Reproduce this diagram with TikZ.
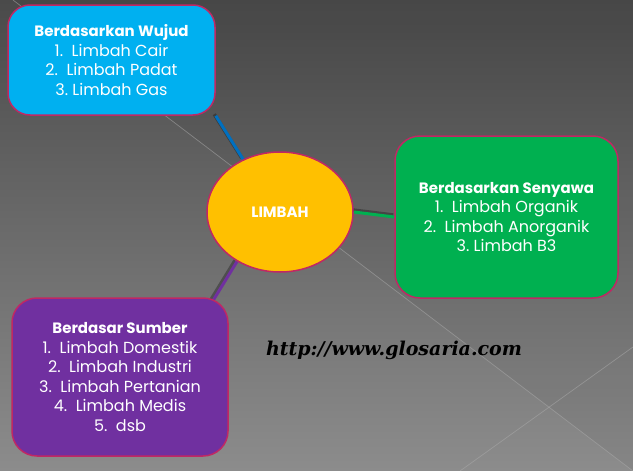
\documentclass[tikz,border=0pt]{standalone}
\usepackage{fontspec}
\setmainfont{Poppins}
\newfontfamily\urlfont{DejaVu Serif}
\usetikzlibrary{shapes.geometric}
\pgfdeclarelayer{bg}
\pgfdeclarelayer{lines}
\pgfsetlayers{bg,lines,main}
\definecolor{bordercol}{RGB}{192,40,100}
\definecolor{wujudcol}{RGB}{0,176,240}
\definecolor{senyawacol}{RGB}{0,176,80}
\definecolor{sumbercol}{RGB}{112,48,160}
\definecolor{limbahcol}{RGB}{255,192,0}
\definecolor{linkblue}{RGB}{0,112,192}
\definecolor{linkgreen}{RGB}{0,176,80}
\definecolor{linkpurple}{RGB}{112,48,160}
\definecolor{bgtop}{RGB}{74,74,74}
\definecolor{bgmid}{RGB}{98,98,98}
\definecolor{bgbot}{RGB}{140,140,140}
\definecolor{glint}{RGB}{170,170,170}
\newcommand{\hd}[1]{{\fontsize{15}{19.5}\selectfont\bfseries #1}}
\tikzset{
  catbox/.style={draw=bordercol, line width=1.5pt, rounded corners=22pt,
    text=white, align=center, inner sep=0pt,
    font=\fontsize{16}{19.5}\selectfont},
  hubnode/.style={ellipse, draw=bordercol, line width=1.5pt, fill=limbahcol,
    inner sep=0pt, text=white, font=\fontsize{15}{18}\selectfont\bfseries},
  link/.style={line width=3pt},
  linkshadow/.style={line width=3.5pt, black, opacity=0.3},
  glintline/.style={glint, line width=0.7pt, opacity=0.55},
  urltext/.style={font=\urlfont\fontsize{19}{22}\selectfont\bfseries\itshape, text=black, inner sep=0pt}
}
\begin{document}
\begin{tikzpicture}[x=1pt,y=-1pt]
\useasboundingbox (0,0) rectangle (633,471);
\begin{pgfonlayer}{bg}
  \shade[top color=bgtop, middle color=bgmid, bottom color=bgbot] (0,0) rectangle (633,471);
  \fill[black, opacity=0.04] (13,0) -- (633,0) -- (633,471) -- cycle;
  \coordinate (g1a) at (13,0);
  \coordinate (g1b) at (633,471);
  \coordinate (g2a) at (460,471);
  \coordinate (g2b) at (633,347);
  \draw[glintline] (g1a) -- (g1b);
  \draw[glintline] (g2a) -- (g2b);
\end{pgfonlayer}

\node[catbox, fill=wujudcol, minimum width=207pt, minimum height=110pt] (wujud) at (111.5,60)
  {\hd{Berdasarkan Wujud}\\1.\ \ Limbah Cair\\2.\ \ Limbah Padat\\3.\ Limbah Gas};
\node[hubnode, minimum width=146pt, minimum height=120pt] (limbah) at (280,212) {LIMBAH};
\node[catbox, rounded corners=25pt, fill=senyawacol, minimum width=223pt, minimum height=162pt] (senyawa) at (506.5,217)
  {\hd{Berdasarkan Senyawa}\\1.\ \ Limbah Organik\\2.\ \ Limbah Anorganik\\3.\ Limbah B3};
\node[catbox, rounded corners=25pt, fill=sumbercol, minimum width=216pt, minimum height=158pt] (sumber) at (120,377)
  {\hd{Berdasar Sumber}\\1.\ \ Limbah Domestik\\2.\ \ Limbah Industri\\3.\ \ Limbah Pertanian\\4.\ \ Limbah Medis\\5.\ \ dsb};
\node[urltext] (url) at (394,350) {http://www.glosaria.com};

\begin{pgfonlayer}{lines}
  \coordinate (pend) at ([xshift=-21pt,yshift=-12pt]sumber.north east);
  \draw[linkshadow] ([xshift=-1.5pt,yshift=1.5pt]wujud.south east) -- ([xshift=-1.5pt,yshift=1.5pt]limbah.125);
  \draw[linkshadow] ([xshift=-1pt,yshift=2pt]limbah.east) -- ([xshift=-1pt,yshift=2pt]senyawa.west);
  \draw[linkshadow] ([xshift=-2pt,yshift=1pt]limbah.229) -- ([xshift=-2pt,yshift=1pt]pend);
  \draw[link, linkblue] (wujud.south east) -- (limbah.125);
  \draw[link, linkgreen] (limbah.east) -- (senyawa.west);
  \draw[link, linkpurple] (limbah.229) -- (pend);
\end{pgfonlayer}
\end{tikzpicture}
\end{document}
